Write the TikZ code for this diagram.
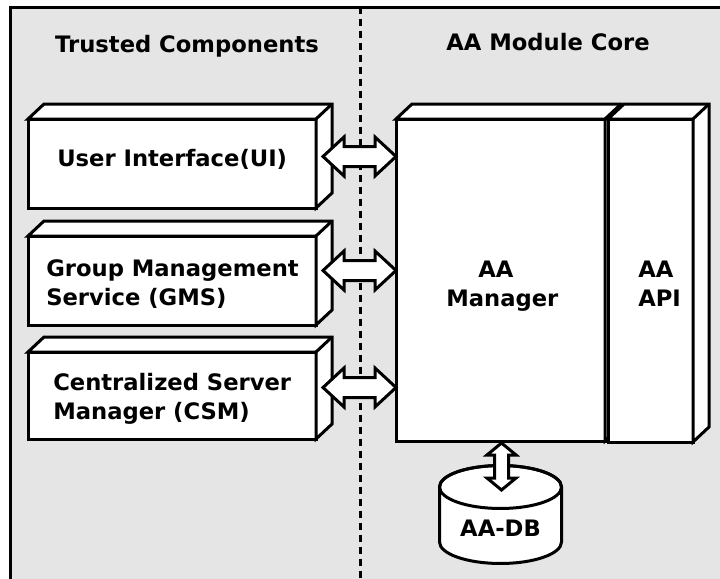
\documentclass[tikz,border=0pt]{standalone}
\usepackage{fontspec}
\setmainfont{DejaVu Sans}
\usetikzlibrary{calc,fit}
\definecolor{panel}{HTML}{E5E5E5}

\tikzset{
  thick line/.style={line width=2.25pt},
  box/.style={thick line, draw, fill=white, inner sep=0pt, outer sep=0pt},
  face/.style={thick line, draw, fill=white},
  block/.style={thick line, draw, fill=white, line join=miter},
  heading/.style={font=\bfseries\fontsize{17}{21}\selectfont},
  boxtext/.style={font=\bfseries\fontsize{17}{21.75}\selectfont, inner sep=0pt, anchor=base west},
  divider/.style={thick line, dash pattern=on 5.25pt off 3.75pt},
}

% top and right faces of a box node, giving it depth
\newcommand\solidfaces[1]{%
  \draw[face] (#1.north west) -- ++(16,-15) -- ($(#1.north east)+(16,-15)$)
    -- ($(#1.south east)+(16,-15)$) -- (#1.south east) -- (#1.north east) -- cycle;
  \draw[thick line] (#1.north east) -- ++(16,-15);}

% double-headed block arrow: from, to, head length, head half width, shaft half width
\newcommand\blockarrow[5]{%
  \draw[block] (#1) -- ($(#1)!#3!(#2)!#4!90:(#2)$) -- ($(#1)!#3!(#2)!#5!90:(#2)$)
    -- ($(#2)!#3!(#1)!#5!-90:(#1)$) -- ($(#2)!#3!(#1)!#4!-90:(#1)$) -- (#2)
    -- ($(#2)!#3!(#1)!#4!90:(#1)$) -- ($(#2)!#3!(#1)!#5!90:(#1)$)
    -- ($(#1)!#3!(#2)!#5!-90:(#2)$) -- ($(#1)!#3!(#2)!#4!-90:(#2)$) -- cycle;}

% two left-aligned lines, baseline on the first one
\newcommand\twolines[2]{\begin{tabular}[t]{@{}l@{}}#1\\#2\end{tabular}}

\begin{document}
\begin{tikzpicture}[x=0.75pt,y=-0.75pt]
  \useasboundingbox (0,0) rectangle (720,578);
  \clip (0,0) rectangle (720,578);

  % panel
  \fill[white] (0,0) rectangle (720,578);
  \draw[thick line, fill=panel] (10,7) rectangle (740,600);
  \draw[divider] (360,7) -- (360,590);

  % headings
  \node[heading] (trusted) at (187,46) {Trusted Components};
  \node[heading] (core) at (548,42) {AA Module Core};

  % trusted components
  \node[box, fit={(28,119) (316,208)}] (ui) {};
  \solidfaces{ui}
  \node[boxtext] (uitext) at (57,166) {User Interface(UI)};
  \node[box, fit={(28,236) (316,325)}] (gms) {};
  \solidfaces{gms}
  \node[boxtext] (gmstext) at (46,276) {\twolines{Group Management}{Service (GMS)}};
  \node[box, fit={(28,352) (316,439)}] (csm) {};
  \solidfaces{csm}
  \node[boxtext] (csmtext) at (53,390) {\twolines{Centralized Server}{Manager (CSM)}};

  % module core
  \node[box, fit={(396,119) (605,441)}] (mgr) {};
  \solidfaces{mgr}
  \node[boxtext] (mgrtext) at (446,277) {\twolines{\hspace*{24pt}AA}{Manager}};
  \node[box, fit={(608,119) (693,442)}] (api) {};
  \solidfaces{api}
  \node[boxtext] (apitext) at (638,277) {\twolines{AA}{API}};

  % database cylinder
  \draw[face] (439.5,487) -- (439.5,542)
    arc[start angle=180, end angle=360, x radius=45.75pt, y radius=16.1pt]
    -- (561.5,487)
    arc[start angle=0, end angle=180, x radius=45.75pt, y radius=16.1pt] -- cycle;
  \draw[thick line] (500.5,487) ellipse [x radius=45.75pt, y radius=16.1pt];
  \node[font=\bfseries\fontsize{17}{21}\selectfont] (db) at (500.5,528) {AA-DB};
  \coordinate (dbin) at (501.5,490);

  % connectors
  \path ($(ui.east)+(7,-7)$) coordinate (ua);
  \path (ua -| mgr.west) coordinate (ub);
  \blockarrow{ua}{ub}{15.75pt}{14.6pt}{7.5pt}
  \path ($(gms.east)+(7,-10)$) coordinate (ga);
  \path (ga -| mgr.west) coordinate (gb);
  \blockarrow{ga}{gb}{15.75pt}{14.6pt}{7.5pt}
  \path ($(csm.east)+(7,-8)$) coordinate (ca);
  \path (ca -| mgr.west) coordinate (cb);
  \blockarrow{ca}{cb}{15.75pt}{14.6pt}{7.5pt}
  \path ($(mgr.south)+(1,2)$) coordinate (ma);
  \blockarrow{ma}{dbin}{9pt}{10.9pt}{5.25pt}
\end{tikzpicture}
\end{document}
